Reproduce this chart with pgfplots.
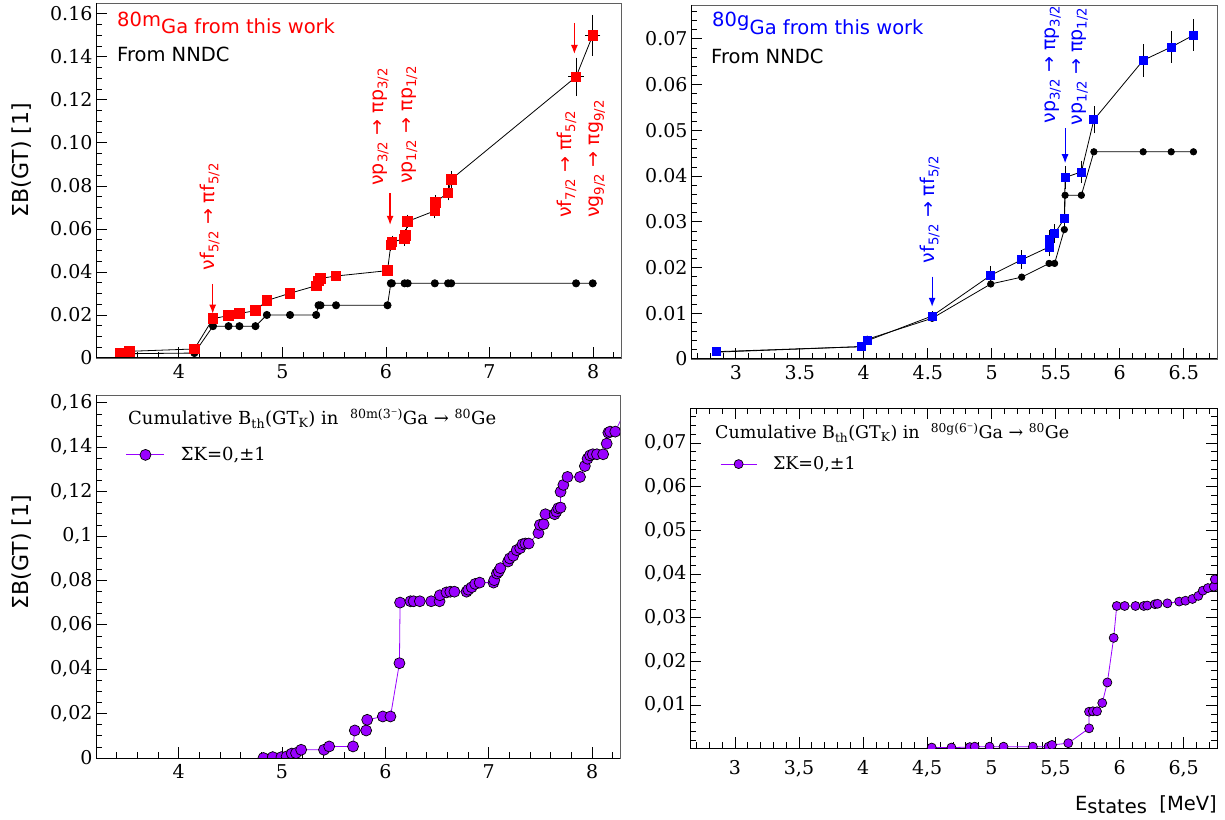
\documentclass[border=0pt]{standalone}
\usepackage{fontspec}
\setmainfont{DejaVu Sans}
\newfontfamily\serif{DejaVu Serif}
\usepackage{pgfplots}
\pgfplotsset{compat=1.18}
\usetikzlibrary{arrows.meta}
\definecolor{vio}{RGB}{153,0,255}
\definecolor{fr}{RGB}{95,95,95}
\newcommand{\fs}[1]{\fontsize{#1}{#1}\selectfont}

\pgfplotstableread{
x y ex ey
3.43 0.0023 0 0.0004
3.52 0.0031 0 0.0004
4.15 0.0042 0 0.0005
4.33 0.0183 0 0.0008
4.48 0.0197 0 0.0006
4.585 0.0207 0 0.0006
4.74 0.0220 0 0.0007
4.85 0.0267 0 0.0008
5.074 0.0301 0 0.0009
5.326 0.0336 0 0.0010
5.349 0.0359 0 0.0010
5.368 0.0370 0 0.0010
5.518 0.0381 0 0.0010
6.015 0.0406 0 0.0012
6.047 0.0526 0 0.0018
6.057 0.0539 0 0.0018
6.18 0.0554 0 0.0020
6.188 0.0570 0 0.0020
6.21 0.0635 0 0.0020
6.472 0.0684 0 0.0024
6.475 0.0723 0 0.0024
6.60 0.0768 0 0.0024
6.63 0.0830 0 0.0028
7.836 0.1307 0.05 0.0078
7.997 0.1500 0.05 0.0083
}\redtab

\pgfplotstableread{
x y
3.43 0.0008
3.52 0.0020
4.15 0.0023
4.33 0.0148
4.48 0.0148
4.585 0.0148
4.74 0.0148
4.85 0.0200
5.074 0.0200
5.326 0.0200
5.349 0.0245
5.368 0.0245
5.518 0.0245
6.015 0.0245
6.047 0.0347
6.057 0.0347
6.18 0.0347
6.21 0.0347
6.472 0.0347
6.60 0.0347
6.63 0.0347
7.836 0.0347
7.997 0.0347
}\nndcm

\pgfplotstableread{
x y ex ey
2.848 0.0016 0 0.0003
3.981 0.0027 0 0.0003
4.027 0.0040 0 0.0003
4.534 0.0094 0 0.0005
4.992 0.0183 0 0.0015
5.234 0.0217 0 0.0015
5.448 0.0245 0 0.0015
5.448 0.0253 0 0.0015
5.448 0.0261 0 0.0015
5.491 0.0274 0 0.0015
5.567 0.0307 0 0.0016
5.573 0.0397 0 0.0020
5.700 0.0409 0 0.0019
5.798 0.0523 0 0.0024
6.183 0.0653 0 0.0030
6.402 0.0682 0 0.0029
6.576 0.0708 0 0.0029
}\bluetab

\pgfplotstableread{
x y
2.848 0.0015
3.981 0.0027
4.027 0.0043
4.534 0.0089
4.992 0.0164
5.234 0.0179
5.448 0.0209
5.491 0.0209
5.567 0.0283
5.573 0.0358
5.700 0.0358
5.798 0.0453
6.183 0.0453
6.402 0.0453
6.576 0.0453
}\nndcg

\pgfplotstableread{
x y
4.82 0.0000
4.91 0.0004
4.994 0.0004
5.044 0.0007
5.094 0.0020
5.135 0.0022
5.185 0.0037
5.406 0.0037
5.456 0.0052
5.687 0.0052
5.704 0.0124
5.814 0.0124
5.824 0.0172
5.975 0.0187
6.049 0.0187
6.136 0.0427
6.142 0.0700
6.243 0.0706
6.273 0.0706
6.333 0.0706
6.443 0.0706
6.524 0.0706
6.527 0.0733
6.591 0.0746
6.628 0.0749
6.668 0.0749
6.785 0.0749
6.802 0.0758
6.835 0.0769
6.869 0.0784
6.912 0.0790
7.046 0.0790
7.053 0.0801
7.079 0.0831
7.096 0.0840
7.113 0.0855
7.187 0.0885
7.203 0.0899
7.237 0.0911
7.270 0.0936
7.304 0.0945
7.327 0.0963
7.354 0.0966
7.387 0.0966
7.481 0.1013
7.495 0.1050
7.531 0.1053
7.548 0.1098
7.638 0.1098
7.655 0.1110
7.672 0.1125
7.695 0.1128
7.695 0.1199
7.722 0.1230
7.762 0.1266
7.883 0.1266
7.930 0.1315
7.956 0.1348
7.980 0.1363
8.007 0.1368
8.047 0.1368
8.107 0.1368
8.141 0.1416
8.157 0.1465
8.174 0.1470
8.224 0.1470
8.275 0.1520
}\thm

\pgfplotstableread{
x y
4.535 0.0003
4.689 0.0003
4.832 0.0004
4.870 0.0005
4.986 0.0005
5.095 0.0005
5.324 0.0005
5.446 0.0005
5.473 0.0009
5.600 0.0013
5.762 0.0047
5.762 0.0085
5.792 0.0086
5.824 0.0086
5.865 0.0105
5.905 0.0152
5.954 0.0254
5.978 0.0327
6.040 0.0327
6.124 0.0327
6.189 0.0327
6.216 0.0328
6.276 0.0331
6.297 0.0332
6.373 0.0333
6.465 0.0337
6.514 0.0339
6.568 0.0343
6.614 0.0350
6.649 0.0362
6.689 0.0368
6.735 0.0371
6.743 0.0388
}\thg

\pgfplotsset{
  rootax/.style={
    scale only axis,
    anchor=south west,
    scaled ticks=false,
    axis line style={draw=fr, line width=0.9pt},
    tick align=inside,
    major tick length=11pt,
    minor tick length=6pt,
    tick style={black, line width=0.7pt},
    tick label style={font=\fs{19}\serif},
    /pgf/number format/assume math mode=true,
    clip mode=individual,
    clip marker paths=true,
    tick pos=left,
    xticklabel style={yshift=-3pt},
  },
  leftax/.style={
    xmin=3.2, xmax=8.27,
    xtick={4,5,6,7,8},
    minor xtick={3.2,3.4,...,8.2},
    minor ytick={0.005,0.01,...,0.16},
  },
  rightax/.style={
    xmin=2.65, xmax=6.76,
    xtick={3,3.5,4,4.5,5,5.5,6,6.5},
    minor xtick={2.7,2.8,...,6.7},
    minor ytick={0.002,0.004,...,0.076},
  },
}

\begin{document}
\begin{tikzpicture}
\useasboundingbox (0pt,0pt) rectangle (1225pt,819pt);

% ---------------- top left
\begin{axis}[rootax, leftax, at={(96pt,461pt)}, width=525pt, height=355pt,
  ymin=0, ymax=0.165,
  xticklabels={4,5,6,7,8},
  ytick={0,0.02,0.04,0.06,0.08,0.10,0.12,0.14,0.16},
  yticklabels={0,0.02,0.04,0.06,0.08,0.10,0.12,0.14,0.16},
]
\addplot[black, line width=0.8pt, mark=*, mark size=3.6pt, mark options={fill=black, draw=black}] table[x=x,y=y] {\nndcm};
\addplot[black, line width=0.8pt, mark=square*, mark size=4.8pt, mark options={fill=red, draw=red},
  error bars/.cd, x dir=both, x explicit, y dir=both, y explicit,
  error bar style={black, line width=0.7pt}, error mark options={black, mark size=2.5pt, line width=0.7pt}]
  table[x=x, y=y, x error=ex, y error=ey] {\redtab};
\draw[red, line width=1.2pt, -{Latex[length=9pt,width=7pt]}] (axis cs:4.327,0.0344) -- (axis cs:4.327,0.0206);
\draw[red, line width=1.2pt, -{Latex[length=9pt,width=7pt]}] (axis cs:6.04,0.0765) -- (axis cs:6.04,0.0619);
\draw[red, line width=1.2pt, -{Latex[length=9pt,width=7pt]}] (axis cs:7.82,0.1558) -- (axis cs:7.82,0.1413);
\node[red, rotate=90, anchor=west, font=\fs{19}, inner sep=0pt] at (axis cs:4.30,0.0407) {νf\textsubscript{5/2} → πf\textsubscript{5/2}};
\node[red, rotate=90, anchor=west, font=\fs{19}, inner sep=0pt] at (axis cs:5.95,0.0800) {νp\textsubscript{3/2} → πp\textsubscript{3/2}};
\node[red, rotate=90, anchor=west, font=\fs{19}, inner sep=0pt] at (axis cs:6.227,0.0809) {νp\textsubscript{1/2} → πp\textsubscript{1/2}};
\node[red, rotate=90, anchor=west, font=\fs{19}, inner sep=0pt] at (axis cs:7.745,0.0651) {νf\textsubscript{7/2} → πf\textsubscript{5/2}};
\node[red, rotate=90, anchor=west, font=\fs{19}, inner sep=0pt] at (axis cs:8.04,0.0651) {νg\textsubscript{9/2} → πg\textsubscript{9/2}};
\draw[black, line width=1pt] (rel axis cs:0,1) -- (rel axis cs:0,0) -- (rel axis cs:1,0);
\end{axis}

% ---------------- top right
\begin{axis}[rootax, rightax, at={(691pt,460pt)}, width=526pt, height=354pt,
  ymin=0, ymax=0.0774,
  xticklabels={3,3.5,4,4.5,5,5.5,6,6.5},
  ytick={0,0.01,0.02,0.03,0.04,0.05,0.06,0.07},
  yticklabels={0,0.01,0.02,0.03,0.04,0.05,0.06,0.07},
]
\addplot[black, line width=0.8pt, mark=*, mark size=3.2pt, mark options={fill=black, draw=black}] table[x=x,y=y] {\nndcg};
\addplot[black, line width=0.8pt, mark=square*, mark size=4pt, mark options={fill=blue, draw=blue},
  error bars/.cd, y dir=both, y explicit,
  error bar style={black, line width=0.7pt}, error mark options={black, mark size=2.5pt, line width=0.7pt}]
  table[x=x, y=y, y error=ey] {\bluetab};
\draw[blue, line width=1.2pt, -{Latex[length=9pt,width=7pt]}] (axis cs:4.534,0.0180) -- (axis cs:4.534,0.0114);
\draw[blue, line width=1.2pt, -{Latex[length=9pt,width=7pt]}] (axis cs:5.573,0.0504) -- (axis cs:5.573,0.0428);
\node[blue, rotate=90, anchor=west, font=\fs{19}, inner sep=0pt] at (axis cs:4.515,0.0209) {νf\textsubscript{5/2} → πf\textsubscript{5/2}};
\node[blue, rotate=90, anchor=west, font=\fs{19}, inner sep=0pt] at (axis cs:5.478,0.0515) {νp\textsubscript{3/2} → πp\textsubscript{3/2}};
\node[blue, rotate=90, anchor=west, font=\fs{19}, inner sep=0pt] at (axis cs:5.689,0.0511) {νp\textsubscript{1/2} → πp\textsubscript{1/2}};
\draw[black, line width=1pt] (rel axis cs:0,1) -- (rel axis cs:0,0) -- (rel axis cs:1,0);
\end{axis}

% ---------------- bottom left
\begin{axis}[rootax, leftax, at={(96pt,61pt)}, width=524pt, height=363pt,
  ymin=0, ymax=0.1635,
  xticklabels={4,5,6,7,8},
  ytick={0,0.02,0.04,0.06,0.08,0.10,0.12,0.14,0.16},
  yticklabels={0,{0,02},{0,04},{0,06},{0,08},{0,1},{0,12},{0,14},{0,16}},
  legend style={draw=none, fill=none, at={(axis description cs:0.057,0.835)}, anchor=west, inner sep=0pt, font=\fs{18}\serif, legend cell align=left},
  legend image code/.code={\draw[mark repeat=2,mark phase=2,#1] plot coordinates {(0pt,0pt) (19pt,0pt) (38pt,0pt)};},
]
\addplot[vio, line width=0.8pt, mark=*, mark size=5.5pt, mark options={fill=vio, draw=black, line width=0.7pt}] table[x=x,y=y] {\thm};
\addlegendentry{\hspace*{14pt}ΣK=0,±1}
\draw[black, line width=1pt] (rel axis cs:0,1) -- (rel axis cs:0,0) -- (rel axis cs:1,0);
\end{axis}

% ---------------- bottom right
\begin{axis}[rootax, rightax, at={(690pt,71pt)}, width=527pt, height=340pt,
  tick pos=both, axis line style={draw=black, line width=1pt},
  ymin=0.0002, ymax=0.078,
  xticklabels={3,{3,5},4,{4,5},5,{5,5},6,{6,5}},
  xticklabel style={yshift=-6pt},
  ytick={0.01,0.02,0.03,0.04,0.05,0.06,0.07},
  yticklabels={{0,01},{0,02},{0,03},{0,04},{0,05},{0,06},{0,07}},
  legend style={draw=none, fill=none, at={(axis description cs:0.057,0.835)}, anchor=west, inner sep=0pt, font=\fs{17.5}\serif, legend cell align=left},
  legend image code/.code={\draw[mark repeat=2,mark phase=2,#1] plot coordinates {(0pt,0pt) (18pt,0pt) (36pt,0pt)};},
]
\addplot[vio, line width=0.8pt, mark=*, mark size=4.5pt, mark options={fill=vio, draw=black, line width=0.7pt}] table[x=x,y=y] {\thg};
\addlegendentry{\hspace*{14pt}ΣK=0,±1}
\end{axis}

% ---------------- texts outside axes
\node[anchor=base west, inner sep=0pt, red, font=\fs{19.5}] at (117pt,792.5pt) {80m};
\node[anchor=base west, inner sep=0pt, red, font=\fs{19.5}] at (161pt,785.2pt) {Ga from this work};
\node[anchor=base west, inner sep=0pt, black, font=\fs{19.5}] at (117pt,757.1pt) {From NNDC};

\node[anchor=base west, inner sep=0pt, blue, font=\fs{19.5}] at (712pt,792.2pt) {80g};
\node[anchor=base west, inner sep=0pt, blue, font=\fs{19.5}] at (749.5pt,784.2pt) {Ga from this work};
\node[anchor=base west, inner sep=0pt, black, font=\fs{19.5}] at (711pt,755.4pt) {From NNDC};

\node[anchor=base west, inner sep=0pt, font=\fs{18}\serif] at (128pt,394.6pt) {Cumulative B\textsubscript{th}(GT\textsubscript{K}) in \ \textsuperscript{80m(3⁻)}Ga → \textsuperscript{80}Ge};
\node[anchor=base west, inner sep=0pt, font=\fs{17.5}\serif] at (715pt,380.3pt) {Cumulative B\textsubscript{th}(GT\textsubscript{K}) in \ \textsuperscript{80g(6⁻)}Ga → \textsuperscript{80}Ge};

\node[rotate=90, font=\fs{22}] at (22pt,659pt) {ΣB(GT) [1]};
\node[rotate=90, font=\fs{22}] at (22pt,267pt) {ΣB(GT) [1]};

\node[anchor=base east, inner sep=0pt, font=\fs{19.5}] at (1217pt,9pt) {E\raisebox{-3pt}{states}\ \ [MeV]};
\end{tikzpicture}
\end{document}
